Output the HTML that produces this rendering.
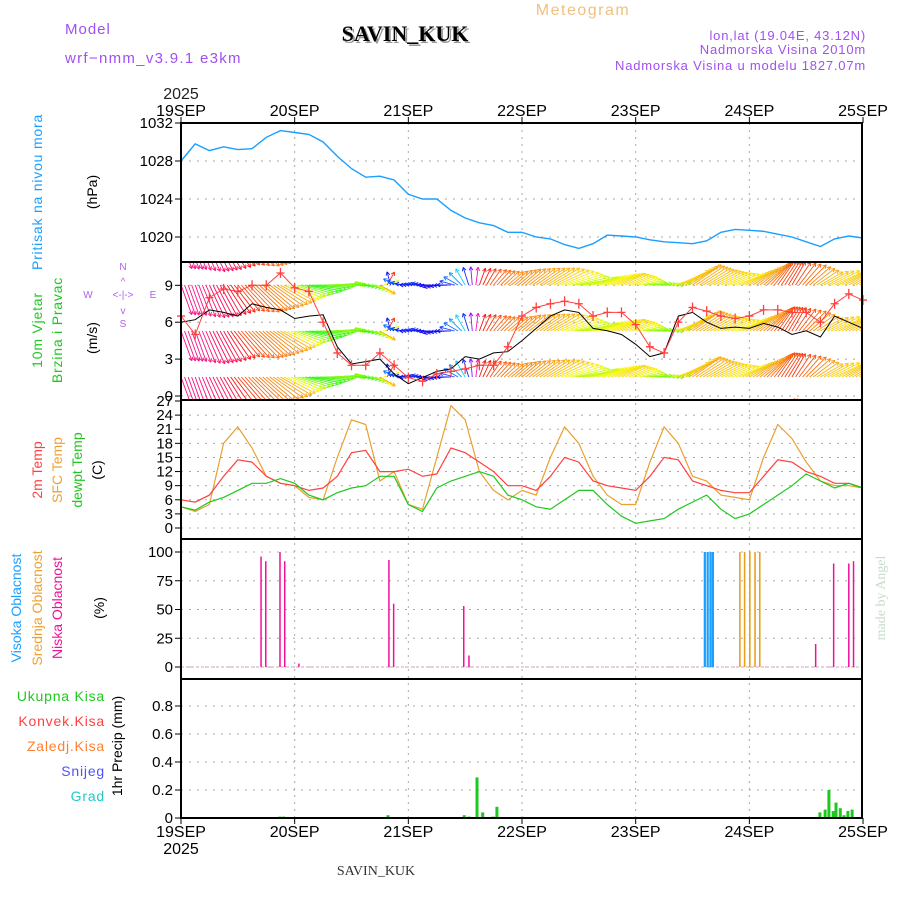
<!DOCTYPE html>
<html><head><meta charset="utf-8"><title>Meteogram SAVIN_KUK</title>
<style>
html,body{margin:0;padding:0;background:#fff;}
svg{display:block;font-family:"Liberation Sans",sans-serif;}
</style></head>
<body>
<svg id="chart" width="900" height="900" viewBox="0 0 900 900" xmlns="http://www.w3.org/2000/svg">
<g>
<text x="65" y="34" font-size="15" fill="#a050f0" letter-spacing="1">Model</text>
<text x="65" y="63" font-size="15" fill="#a050f0" letter-spacing="1.3">wrf−nmm_v3.9.1  e3km</text>
<text x="407" y="43" font-size="22" font-weight="bold" fill="#999" text-anchor="middle" font-family="Liberation Serif, serif">SAVIN_KUK</text>
<text x="405" y="41" font-size="22" font-weight="bold" fill="#000" text-anchor="middle" font-family="Liberation Serif, serif">SAVIN_KUK</text>
<text x="583" y="15" font-size="16" fill="#f0c080" text-anchor="middle" letter-spacing="1.5">Meteogram</text>
<text x="866" y="40" font-size="13" fill="#a050f0" text-anchor="end" letter-spacing="0.8">lon,lat (19.04E, 43.12N)</text>
<text x="866" y="54" font-size="13" fill="#a050f0" text-anchor="end" letter-spacing="0.8">Nadmorska Visina 2010m</text>
<text x="866" y="70" font-size="13" fill="#a050f0" text-anchor="end" letter-spacing="0.8">Nadmorska Visina u modelu 1827.07m</text>
<text x="181" y="99" font-size="16" fill="#222" text-anchor="middle">2025</text>
<text x="376" y="875" font-size="14" fill="#333" text-anchor="middle" font-family="Liberation Serif, serif">SAVIN_KUK</text>
<text transform="translate(885,598) rotate(-90)" font-size="14" fill="#c8dcc8" text-anchor="middle" font-family="Liberation Serif, serif">made by Angel</text>
</g>
<g font-size="14">
<text transform="translate(42,192) rotate(-90)" fill="#1a9fff" text-anchor="middle" letter-spacing="0.8">Pritisak na nivou mora</text>
<text transform="translate(97,192) rotate(-90)" fill="#000" text-anchor="middle">(hPa)</text>
<text transform="translate(42,330) rotate(-90)" fill="#1ec81e" text-anchor="middle" letter-spacing="0.8">10m Vjetar</text>
<text transform="translate(62,330) rotate(-90)" fill="#1ec81e" text-anchor="middle" letter-spacing="0.8">Brzina i Pravac</text>
<text transform="translate(97,338) rotate(-90)" fill="#000" text-anchor="middle">(m/s)</text>
<g fill="#b060f0" font-size="10" text-anchor="middle">
<text x="123" y="270">N</text><text x="123" y="285">^</text><text x="123" y="327">S</text>
<text x="88" y="298">W</text><text x="153" y="298">E</text>
<text x="123" y="298">&lt;-|-&gt;</text><text x="123" y="314">v</text>
</g>
<text transform="translate(42,470) rotate(-90)" fill="#ff4040" text-anchor="middle">2m Temp</text>
<text transform="translate(62,470) rotate(-90)" fill="#f0a030" text-anchor="middle">SFC Temp</text>
<text transform="translate(82,470) rotate(-90)" fill="#1ec81e" text-anchor="middle">dewpt Temp</text>
<text transform="translate(102,470) rotate(-90)" fill="#000" text-anchor="middle">(C)</text>
<text transform="translate(21,608) rotate(-90)" fill="#1a9fff" text-anchor="middle">Visoka Oblacnost</text>
<text transform="translate(42,608) rotate(-90)" fill="#f0a030" text-anchor="middle">Srednja Oblacnost</text>
<text transform="translate(62,608) rotate(-90)" fill="#f0109a" text-anchor="middle">Niska Oblacnost</text>
<text transform="translate(104,608) rotate(-90)" fill="#000" text-anchor="middle">(%)</text>
<text x="105" y="701" fill="#1ec81e" text-anchor="end" letter-spacing="0.8">Ukupna  Kisa</text>
<text x="105" y="726" fill="#ff4040" text-anchor="end" letter-spacing="0.8">Konvek.Kisa</text>
<text x="105" y="751" fill="#ff8030" text-anchor="end" letter-spacing="0.8">Zaledj.Kisa</text>
<text x="105" y="776" fill="#5050ff" text-anchor="end" letter-spacing="0.8">Snijeg</text>
<text x="105" y="801" fill="#20c8c8" text-anchor="end" letter-spacing="0.8">Grad</text>
<text transform="translate(122,746) rotate(-90)" fill="#000" text-anchor="middle">1hr Precip (mm)</text>
</g>
<g id="plot"></g>
</svg>
<script>
// ---- data (3-hourly from 19SEP 00 to 25SEP 00) ----
const dayLabels = ["19SEP","20SEP","21SEP","22SEP","23SEP","24SEP","25SEP"];
const pressure = [1028,1029.8,1029.1,1029.5,1029.2,1029.3,1030.5,1031.2,1031,1030.8,1030,1028.5,1027.2,1026.3,1026.4,1026,1024.5,1024,1024,1022.8,1022,1021.5,1021.2,1020.5,1020.5,1020,1019.8,1019.2,1018.8,1019.3,1020.2,1020.1,1020,1019.7,1019.5,1019.4,1019.3,1019.6,1020.5,1020.8,1020.7,1020.6,1020.3,1020,1019.5,1019,1019.8,1020.1,1019.9];
const windSpeed = [6,6.2,7,6.8,6.5,7.5,7.2,7.0,6.3,6.5,6.6,4,2.6,2.8,3,1.8,1.0,1.5,2,2.2,3.2,3.0,3.5,3.6,4.5,5.5,6.5,7,6.8,5.5,5.3,5.0,4.2,3.2,3.5,6.5,6.8,6.0,5.5,5.6,5.5,5.9,5.6,5.0,5.3,4.8,6.5,6.0,5.5];
const windGust = [6.5,5,8,8.7,8.5,9,9,10,8.8,8.5,6,3.5,2.5,2.5,3.5,2.5,1.5,1.2,1.8,2,2.2,2.5,2.5,4,6.5,7.2,7.5,7.7,7.5,6.5,6.8,6.8,5.8,4.0,3.5,6.0,7.2,6.9,6.5,6.3,6.5,7.0,7.0,6.8,6.8,6.0,7.5,8.3,7.8];
const windDir = [340,340,335,330,320,315,310,300,290,280,270,265,270,280,300,120,90,100,80,90,150,200,220,230,230,235,240,250,260,255,250,245,250,265,270,245,235,240,245,250,240,230,215,210,225,240,245,240,240];
const temp2m = [6,5.5,7,11,14.5,14,11,9.5,9,8,8.5,11,16,16.5,12,12,12.5,11,11.5,17,16,14,12,9,9,8,11,15,14,10,9,8.5,8,11,15,14.5,10,9,8,7.5,7.5,11,14.5,14,12,11,9.5,9.5,8.5];
const tempSfc = [4.5,3.5,5,18,21.5,17,11,9.5,9,6.5,6,15,23,22,10,12,5,4,15,26,23,12,8,6,8,7,15,21.5,18,11,7,5,5,14,21.5,18,11,10,7,6.5,6,15,22,19,14,10,9,9,8.5];
const dewpt = [4.5,3.8,5.5,6.5,8,9.5,9.5,10.5,9.5,7,6,7.5,8.5,9,11,11,5,3.5,8.5,10,11,12,11,7,6,4.5,4,6,8,8,5,2.5,1,1.5,2,4,5.5,7,4,2,3,5,7,9,11.5,10,8.5,9.5,8.5];
const cloudLowHours = [16.9,17.9,20.9,21.9,24.9,43.9,44.9,59.7,60.8,134,137.8,141,142];
const cloudLowValues = [96,92,100,92,3,93,55,53,10,20,90,90,92];
const cloudMidHours = [118,119,120.1,121.2,122.2];
const cloudMidValues = [100,100,100,100,100];
const cloudHighHours = [110.6,111.2,111.8,112.3];
const cloudHighValues = [100,100,100,100];
const precipHours = [20.9,21.7,43.7,59.8,60.8,62.5,63.7,65.9,66.7,134.9,136.0,136.8,137.7,138.3,139.2,140.0,140.8,141.7];
const precipValues = [0.01,0.01,0.02,0.02,0.01,0.29,0.04,0.01,0.08,0.04,0.06,0.2,0.05,0.11,0.07,0.02,0.05,0.06];
const pressureTicks = [1020,1024,1028,1032];
const windTicks = [0,3,6,9];
const tempTicks = [0,3,6,9,12,15,18,21,24,27];
const cloudTicks = [0,25,50,75,100];
const precipTicks = [0,0.2,0.4,0.6,0.8];

// ---- geometry ----
const X0 = 181, DAYW = 113.67, XR = 862;
const xh = h => X0 + h * DAYW / 24;
const xi = i => xh(i * 3);
const yP = p => 161 - (p - 1028) * 9.5;
const yW = v => 396 - v * 12.3;
const yT = t => 528 - t * 127 / 27;
const yC = c => 667 - c * 1.15;
const yR = r => 818 - r * 140;
const panels = [[123,262],[262,400],[400,539],[539,679],[679,818]];
const NS = "http://www.w3.org/2000/svg";
const plot = document.getElementById('plot');
function mk(tag, attrs, parent) {
  const e = document.createElementNS(NS, tag);
  for (const k in attrs) e.setAttribute(k, attrs[k]);
  (parent || plot).appendChild(e);
  return e;
}
function poly(vals, yf, color, w, name) {
  const pts = vals.map((v, i) => xi(i).toFixed(1) + ',' + yf(v).toFixed(1)).join(' ');
  const e = mk('polyline', {points: pts, fill: 'none', stroke: color, 'stroke-width': w});
  
  
  return e;
}
function gridAndTicks(ticks, yf, fmt, y0, y1, name) {
  const g = mk('g', {});
  
  
  ticks.forEach(t => {
    const y = yf(t);
    if (y > y0 + 2 && y < y1 - 2) mk('line', {x1: X0, x2: XR, y1: y, y2: y, stroke: '#aaa', 'stroke-dasharray': '2,6'}, g);
    mk('line', {x1: X0 - 6, x2: X0, y1: y, y2: y, stroke: '#000'}, g);
    const tx = mk('text', {x: X0 - 8, y: y + 5, 'font-size': 15, 'text-anchor': 'end', fill: '#000'}, g);
    tx.textContent = fmt(t);
  });
}
dayLabels.forEach((d, i) => {
  const x = X0 + i * DAYW;
  if (i > 0 && i < 6) {
    const l = mk('line', {x1: x, x2: x, y1: 123, y2: 818, stroke: '#aaa', 'stroke-dasharray': '2,5'});
    
    
  }
  const t1 = mk('text', {x: x, y: 116, 'font-size': 16, 'text-anchor': 'middle', fill: '#000'});
  t1.textContent = d;
  
  
  const t2 = mk('text', {x: x, y: 837, 'font-size': 16, 'text-anchor': 'middle', fill: '#000'});
  t2.textContent = d;
  
  
  mk('line', {x1: x, x2: x, y1: 123, y2: 117, stroke: '#000'});
  mk('line', {x1: x, x2: x, y1: 818, y2: 824, stroke: '#000'});
});
const yb = mk('text', {x: 181, y: 854, 'font-size': 16, 'text-anchor': 'middle', fill: '#000'});
yb.textContent = '2025';



gridAndTicks(pressureTicks, yP, t => t, 123, 262, 'pressure-axis');
gridAndTicks(windTicks, yW, t => t, 262, 400, 'wind-axis');
gridAndTicks(tempTicks, yT, t => t, 400, 539, 'temp-axis');
gridAndTicks(cloudTicks, yC, t => t, 539, 679, 'cloud-axis');
gridAndTicks(precipTicks, yR, t => t === 0 ? '0' : t.toFixed(1), 679, 818, 'precip-axis');

poly(pressure, yP, '#1a9fff', 1.4, 'pressure-line');

const clip = mk('clipPath', {id: 'wclip'});
mk('rect', {x: X0, y: 262, width: XR - X0, height: 138}, clip);
const wg = mk('g', {'clip-path': 'url(#wclip)'});


const huePts = [[60,250],[90,240],[150,190],[200,0],[220,20],[235,38],[250,58],[265,85],[280,115],[300,40],[315,25],[330,345],[345,322],[360,320]];
function hueFor(d) {
  for (let k = 0; k < huePts.length - 1; k++) {
    const a = huePts[k], b = huePts[k + 1];
    if (d >= a[0] && d <= b[0]) {
      let h0 = a[1], h1 = b[1];
      if (Math.abs(h1 - h0) > 180) { if (h1 < h0) h1 += 360; else h0 += 360; }
      return (h0 + (h1 - h0) * (d - a[0]) / (b[0] - a[0])) % 360;
    }
  }
  return 320;
}
const interp = (arr, h) => {
  const f = h / 3, i = Math.min(Math.floor(f), arr.length - 2), t = f - i;
  return arr[i] + (arr[i + 1] - arr[i]) * t;
};
const rowBases = [239, 285, 331, 377, 423];
for (let h = 0; h <= 144; h += 0.75) {
  const sp = interp(windSpeed, h), dir = interp(windDir, h);
  const to = (dir + 180) * Math.PI / 180, L = sp * 4.6 + 4;
  const dx = Math.sin(to) * L, dy = -Math.cos(to) * L;
  const col = 'hsl(' + hueFor(dir).toFixed(0) + ',95%,52%)';
  rowBases.forEach(by => {
    const x = xh(h), x2 = x + dx, y2 = by + dy;
    mk('line', {x1: x, y1: by, x2: x2, y2: y2, stroke: col, 'stroke-width': 0.9}, wg);
    const ang = Math.atan2(dy, dx);
    [0.5, -0.5].forEach(o => {
      mk('line', {x1: x2, y1: y2, x2: x2 - 4 * Math.cos(ang + o), y2: y2 - 4 * Math.sin(ang + o), stroke: col, 'stroke-width': 0.9}, wg);
    });
  });
}
poly(windSpeed, yW, '#000', 1, 'wind-speed-line');
poly(windGust, yW, '#ff4040', 1, 'wind-gust-line');
windGust.forEach((v, i) => {
  const x = xi(i), y = yW(v);
  const m = mk('path', {d: `M${x-4},${y}H${x+4}M${x},${y-5}V${y+5}`, stroke: '#ff4040', 'stroke-width': 1.3, fill: 'none'});
  
  
});

poly(tempSfc, yT, '#e8a030', 1.2, 'sfc-temp-line');
poly(temp2m, yT, '#ff4040', 1.2, '2m-temp-line');
poly(dewpt, yT, '#1ec81e', 1.2, 'dewpt-line');

const zl = mk('line', {x1: X0, x2: XR, y1: 667, y2: 667, stroke: '#d0a0c0', 'stroke-width': 1, 'stroke-dasharray': '3,2'});


function bars(hours, vals, yf, color, w, name) {
  hours.forEach((h, i) => {
    const x = xh(h), y = yf(vals[i]), y0 = yf(0);
    const r = mk('rect', {x: x - w / 2, y: y, width: w, height: y0 - y, fill: color});
    
    
  });
}
bars(cloudLowHours, cloudLowValues, yC, '#f0109a', 1.5, 'cloud-low-bar');
bars(cloudMidHours, cloudMidValues, yC, '#e8a020', 1.6, 'cloud-mid-bar');
bars(cloudHighHours, cloudHighValues, yC, '#1a9fff', 2.2, 'cloud-high-bar');
bars(precipHours, precipValues, yR, '#1ec81e', 3, 'precip-bar');

panels.forEach((p, i) => {
  const r = mk('rect', {x: X0, y: p[0], width: XR - X0, height: p[1] - p[0], fill: 'none', stroke: '#000', 'stroke-width': 2});
  
  
});
</script>
</body></html>
